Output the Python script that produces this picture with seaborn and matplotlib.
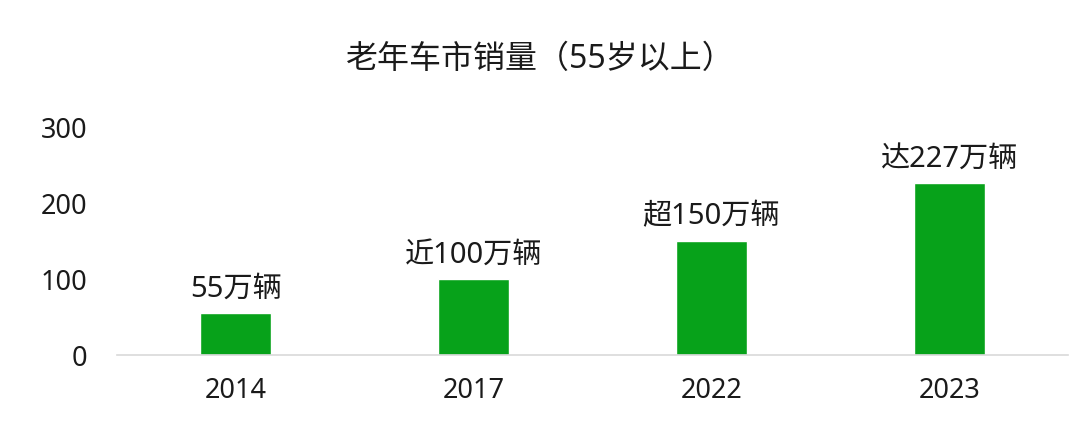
import matplotlib
matplotlib.use("Agg")
import matplotlib.pyplot as plt
import pandas as pd
import seaborn as sns

years = ["2014", "2017", "2022", "2023"]
sales = [55, 100, 150, 226]
labels = ["55万辆", "近100万辆", "超150万辆", "达227万辆"]
title = "老年车市销量（55岁以上）"

sns.set_theme(style="white")
plt.rcParams["font.family"] = ["Noto Sans", "Noto Sans CJK SC", "DejaVu Sans"]

df = pd.DataFrame({"year": years, "sales": sales})

fig = plt.figure(figsize=(10.8, 4.34), dpi=100)
ax = fig.add_axes([0.108, 0.182, 0.881, 0.525])

sns.barplot(data=df, x="year", y="sales", color="#07A21A", width=0.3,
            saturation=1, ax=ax)

ax.set_xlim(-0.5, 3.5)
ax.set_ylim(0, 300)
ax.set_yticks([0, 100, 200, 300])
ax.set_xlabel("")
ax.set_ylabel("")

for s in ["top", "right", "left"]:
    ax.spines[s].set_visible(False)
ax.spines["bottom"].set_color("#D9D9D9")
ax.spines["bottom"].set_linewidth(1.2)

ax.tick_params(axis="both", length=0, labelsize=19.5, colors="#1a1a1a")
ax.tick_params(axis="y", pad=21)
ax.tick_params(axis="x", pad=16)

for i, (v, t) in enumerate(zip(sales, labels)):
    ax.annotate(t, (i, v), xytext=(0, 7), textcoords="offset points",
                ha="center", va="bottom", fontsize=21, color="#1a1a1a",
                annotation_clip=False)

fig.text(0.5, 0.862, title, ha="center", va="center", fontsize=23, color="#1a1a1a")

fig.savefig("out.png", dpi=100)
